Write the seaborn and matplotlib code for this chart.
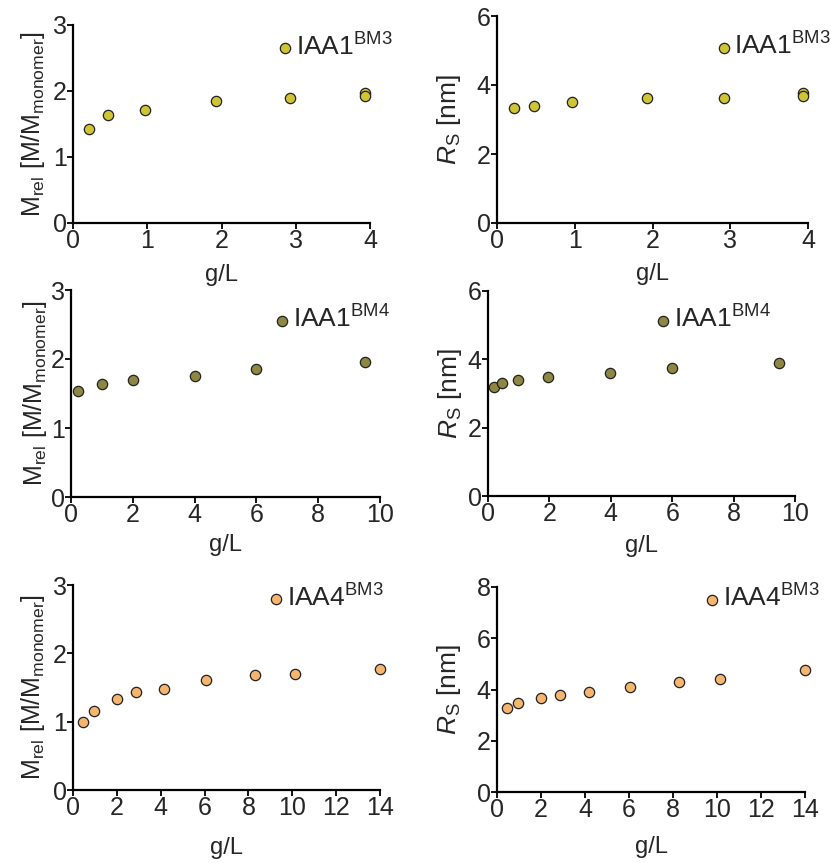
import matplotlib
matplotlib.use("Agg")
import matplotlib.pyplot as plt
import seaborn as sns
import pandas as pd

# ---- data -------------------------------------------------------------
conc_iaa1_bm3 = [0.22, 0.47, 0.97, 1.93, 2.92, 3.93, 3.93]
mrel_iaa1_bm3 = [1.43, 1.64, 1.71, 1.85, 1.89, 1.97, 1.92]
rs_iaa1_bm3 = [3.32, 3.38, 3.51, 3.61, 3.63, 3.76, 3.68]

conc_iaa1_bm4_m = [0.24, 1.0, 2.0, 4.0, 6.0, 9.5]
mrel_iaa1_bm4 = [1.54, 1.64, 1.70, 1.76, 1.86, 1.95]
conc_iaa1_bm4_r = [0.2, 0.47, 0.98, 1.97, 3.98, 6.0, 9.48]
rs_iaa1_bm4 = [3.20, 3.30, 3.39, 3.49, 3.60, 3.74, 3.89]

conc_iaa4_bm3 = [0.46, 0.97, 2.0, 2.87, 4.17, 6.06, 8.28, 10.13, 13.98]
mrel_iaa4_bm3 = [0.99, 1.15, 1.33, 1.44, 1.48, 1.61, 1.69, 1.70, 1.77]
rs_iaa4_bm3 = [3.27, 3.46, 3.67, 3.79, 3.92, 4.11, 4.28, 4.42, 4.75]

labels = ["IAA1$^{\\mathregular{BM3}}$", "IAA1$^{\\mathregular{BM4}}$",
          "IAA4$^{\\mathregular{BM3}}$"]
colors = ["#cfc434", "#8e8744", "#f5b56e"]

x_ticks = [[0, 1, 2, 3, 4], [0, 2, 4, 6, 8, 10], [0, 2, 4, 6, 8, 10, 12, 14]]
mrel_ticks = [0, 1, 2, 3]
rs_ticks = [[0, 2, 4, 6], [0, 2, 4, 6], [0, 2, 4, 6, 8]]

# ---- style ------------------------------------------------------------
sns.set_style("ticks")
plt.rcParams["font.family"] = ["Liberation Sans", "DejaVu Sans"]
plt.rcParams["mathtext.fontset"] = "custom"
plt.rcParams["mathtext.rm"] = "Liberation Sans"
plt.rcParams["mathtext.it"] = "Liberation Sans:italic"
plt.rcParams["mathtext.bf"] = "Liberation Sans:bold"

W, H = 831, 863
fig = plt.figure(figsize=(W / 100, H / 100), dpi=100)

def px_rect(left, right, top, bottom):
    return [left / W, 1 - bottom / H, (right - left) / W, (bottom - top) / H]

mrel_label = "M$_{\\mathregular{rel}}$ [M/M$_{\\mathregular{monomer}}$]"
rs_label = "$R_{\\mathregular{S}}$ [nm]"

panels = [
    # rect, x, y, row, ylabel, yticks, legend marker pos (axes frac), xlabelpad, ylabelpad
    (px_rect(73, 370, 25, 223), conc_iaa1_bm3, mrel_iaa1_bm3, 0, mrel_label, mrel_ticks, (0.714, 0.89), 8, 4),
    (px_rect(497, 808, 16, 223), conc_iaa1_bm3, rs_iaa1_bm3, 0, rs_label, rs_ticks[0], (0.729, 0.854), 7, 10),
    (px_rect(71, 380, 290, 497), conc_iaa1_bm4_m, mrel_iaa1_bm4, 1, mrel_label, mrel_ticks, (0.683, 0.859), 5, 1),
    (px_rect(488, 795, 291, 496), conc_iaa1_bm4_r, rs_iaa1_bm4, 1, rs_label, rs_ticks[1], (0.571, 0.863), 6, 3),
    (px_rect(73, 380, 585, 790), conc_iaa4_bm3, mrel_iaa4_bm3, 2, mrel_label, mrel_ticks, (0.662, 0.938), 12, 4),
    (px_rect(497, 805, 587, 792), conc_iaa4_bm3, rs_iaa4_bm3, 2, rs_label, rs_ticks[2], (0.699, 0.944), 10, 10),
]

for rect, xs, ys, row, ylab, yt, legpos, xpad, ypad in panels:
    ax = fig.add_axes(rect)
    df = pd.DataFrame({"g/L": xs, "val": ys})
    sns.scatterplot(data=df, x="g/L", y="val", ax=ax, color=colors[row],
                    s=55, edgecolor="#222222", linewidth=0.9,
                    label=labels[row], clip_on=False, zorder=3)
    ax.set_xlim(x_ticks[row][0], x_ticks[row][-1])
    ax.set_ylim(yt[0], yt[-1])
    ax.set_xticks(x_ticks[row])
    ax.set_yticks(yt)
    ax.set_xlabel("g/L", fontsize=17, labelpad=xpad)
    ysize = 18 if ylab == mrel_label else 19
    ax.set_ylabel(ylab, fontsize=ysize, labelpad=ypad)
    ax.tick_params(labelsize=18, length=4, width=1.3, pad=0.5, color="black")
    sns.despine(ax=ax)
    for sp in ("left", "bottom"):
        ax.spines[sp].set_linewidth(1.6)
        ax.spines[sp].set_color("black")
    # legend: marker centred on legpos
    ax_w_px = rect[2] * W
    off = 6.6 / ax_w_px
    ax.legend(loc="center left", bbox_to_anchor=(legpos[0] - off, legpos[1]),
              frameon=False, fontsize=19, handlelength=0.5, handletextpad=0.15,
              borderpad=0, borderaxespad=0)

fig.savefig("out.png", dpi=100)
